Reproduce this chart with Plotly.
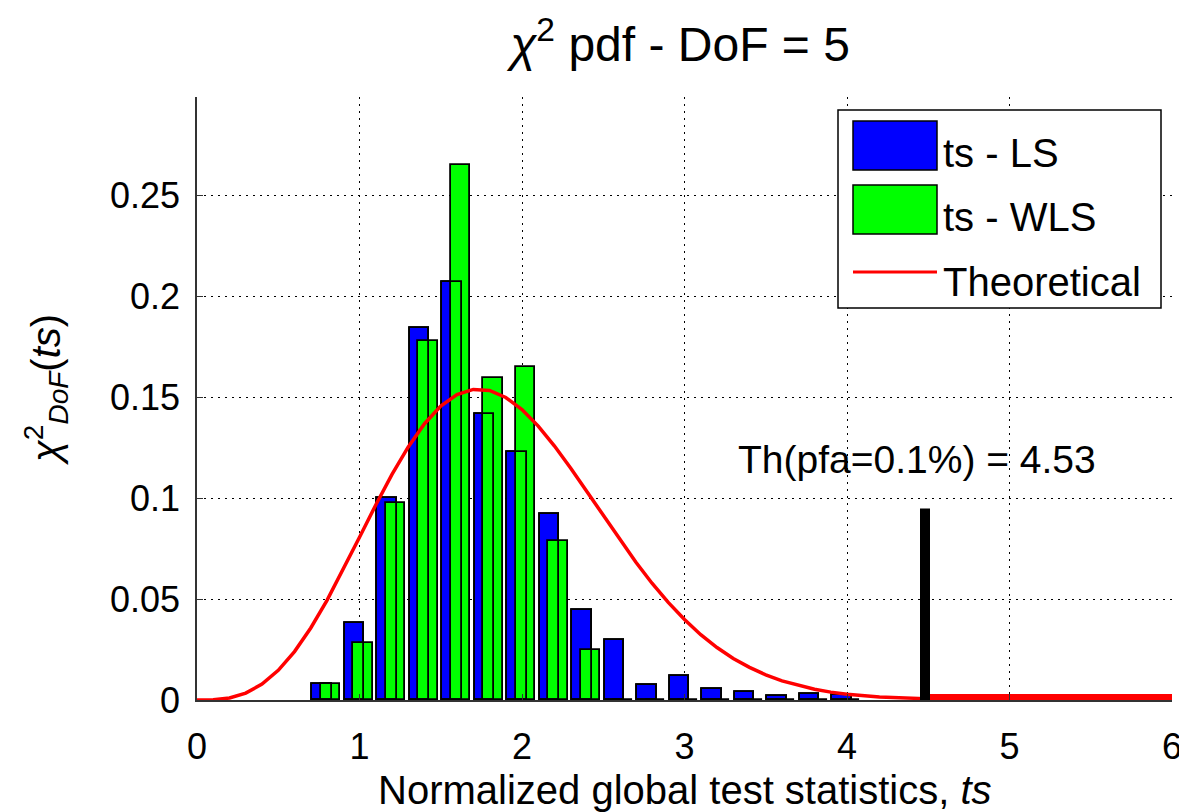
import plotly.graph_objects as go

# ---------------- data ----------------
bin_centers = [0.8, 1.0, 1.2, 1.4, 1.6, 1.8, 2.0, 2.2, 2.4, 2.6, 2.8, 3.0, 3.2, 3.4, 3.6, 3.8, 4.0]
ts_ls = [0.0077, 0.0383, 0.1000, 0.1845, 0.2075, 0.1420, 0.1230, 0.0922, 0.0448, 0.0300,
         0.0075, 0.0117, 0.0054, 0.0042, 0.0020, 0.0031, 0.0025]
ts_wls = [0.0077, 0.0283, 0.0979, 0.1780, 0.2655, 0.1596, 0.1650, 0.0788, 0.0249, 0.0,
          0.0, 0.0, 0.0, 0.0, 0.0, 0.0, 0.0]

curve_x = [0.0, 0.1, 0.2, 0.3, 0.4, 0.5, 0.6, 0.7, 0.8, 0.9,
           1.0, 1.1, 1.2, 1.3, 1.4, 1.5, 1.6, 1.7, 1.8, 1.9,
           2.0, 2.1, 2.2, 2.3, 2.4, 2.5, 2.6, 2.7, 2.8, 2.9,
           3.0, 3.1, 3.2, 3.3, 3.4, 3.5, 3.6, 3.7, 3.8, 3.9,
           4.0, 4.2, 4.4, 4.6, 4.8, 5.0, 5.5, 6.0]
curve_y = [0.0, 0.0001, 0.0010, 0.0034, 0.0079, 0.0147, 0.0240, 0.0357, 0.0494, 0.0647,
           0.0807, 0.0967, 0.1119, 0.1255, 0.1370, 0.1457, 0.1514, 0.1540, 0.1535, 0.1500,
           0.1440, 0.1358, 0.1259, 0.1149, 0.1032, 0.0913, 0.0796, 0.0684, 0.0579, 0.0484,
           0.0399, 0.0324, 0.0260, 0.0206, 0.0162, 0.0125, 0.0095, 0.0072, 0.0053, 0.0039,
           0.0029, 0.0015, 0.0007, 0.0003, 0.0002, 0.0001, 0.0, 0.0]

threshold_x = 4.48
threshold_h = 0.095
threshold_label = "Th(pfa=0.1%) = 4.53"
x_max = 6

x_ticks = [0, 1, 2, 3, 4, 5, 6]
y_ticks = [0, 0.05, 0.1, 0.15, 0.2, 0.25]
y_tick_labels = ["0", "0.05", "0.1", "0.15", "0.2", "0.25"]

series_names = ["ts - LS", "ts - WLS", "Theoretical"]
series_colors = ["#0000FF", "#00FF00", "#FF0000"]

FONT = "Liberation Sans, Arial, Helvetica, sans-serif"

# the page body has an 8px margin, so the figure is 8px smaller and margins shifted
PAGE_OFF = 8
FIG_W, FIG_H = 1187 - PAGE_OFF, 812 - PAGE_OFF

fig = go.Figure()

# LS bars (left of each group)
fig.add_trace(go.Bar(
    x=bin_centers, y=ts_ls, offset=-0.092, width=0.121,
    marker=dict(color=series_colors[0], line=dict(color="black", width=1.8)),
    name=series_names[0], showlegend=False))
# WLS bars (right of each group, overlapping)
fig.add_trace(go.Bar(
    x=bin_centers, y=ts_wls, offset=-0.037, width=0.117,
    marker=dict(color=series_colors[1], line=dict(color="black", width=1.8)),
    name=series_names[1], showlegend=False))
# LS outlines drawn on top (as in the reference rendering)
fig.add_trace(go.Bar(
    x=bin_centers, y=ts_ls, offset=-0.092, width=0.121,
    marker=dict(color="rgba(0,0,0,0)", line=dict(color="black", width=1.8)),
    hoverinfo="skip", showlegend=False))

# theoretical curve
fig.add_trace(go.Scatter(
    x=curve_x, y=curve_y, mode="lines",
    line=dict(color=series_colors[2], width=3.5),
    name=series_names[2], showlegend=False))

# rejection region (thick red along the axis, right of the threshold)
fig.add_trace(go.Scatter(
    x=[threshold_x, x_max], y=[0, 0], mode="lines",
    line=dict(color=series_colors[2], width=12), showlegend=False, hoverinfo="skip"))

# threshold marker
fig.add_trace(go.Scatter(
    x=[threshold_x, threshold_x], y=[0, threshold_h], mode="lines",
    line=dict(color="black", width=10), showlegend=False, hoverinfo="skip"))

fig.add_annotation(
    x=4.43, y=0.1195, xref="x", yref="y", text=threshold_label,
    showarrow=False, xanchor="center", yanchor="middle",
    font=dict(family=FONT, size=39, color="black"))

# ---------------- custom legend (large swatches like the reference) ----------------
# helpers: page pixel -> paper fraction of the plot area (plot area 197..1172 x 97..700)
W, H = 975.0, 603.0
L0, B0 = 197.0, 700.0
def px(xp):
    return (xp - L0) / W
def py(yp):
    return (B0 - yp) / H

fig.add_shape(type="rect", xref="paper", yref="paper",
              x0=px(838), x1=px(1161), y0=py(308), y1=py(110),
              fillcolor="white", line=dict(color="black", width=1.5), layer="above")
fig.add_shape(type="rect", xref="paper", yref="paper",
              x0=px(853), x1=px(937), y0=py(170), y1=py(121),
              fillcolor=series_colors[0], line=dict(color="black", width=1.5), layer="above")
fig.add_shape(type="rect", xref="paper", yref="paper",
              x0=px(853), x1=px(937), y0=py(234), y1=py(185),
              fillcolor=series_colors[1], line=dict(color="black", width=1.5), layer="above")
fig.add_shape(type="line", xref="paper", yref="paper",
              x0=px(853), x1=px(937), y0=py(272), y1=py(272),
              line=dict(color=series_colors[2], width=3), layer="above")
for name, yc in zip(series_names, [153, 217, 282]):
    fig.add_annotation(x=px(941), y=py(yc), xref="paper", yref="paper",
                       text=name, showarrow=False, xanchor="left", yanchor="middle",
                       font=dict(family=FONT, size=40, color="black"))

# y-axis title as a rotated annotation
fig.add_annotation(x=px(46), y=py(390), xref="paper", yref="paper",
                   text="<i>χ</i><sup>2</sup><sub><i>DoF</i></sub>(<i>ts</i>)",
                   textangle=-90, showarrow=False, xanchor="center", yanchor="middle",
                   font=dict(family=FONT, size=40, color="black"))

# x-axis title as an annotation near the bottom edge
fig.add_annotation(x=px(685), y=py(790), xref="paper", yref="paper",
                   text="Normalized global test statistics, <i>ts</i>",
                   showarrow=False, xanchor="center", yanchor="middle",
                   font=dict(family=FONT, size=40, color="black"))

grid_dash = "2px,5px"
fig.update_layout(
    width=FIG_W, height=FIG_H,
    margin=dict(l=197 - PAGE_OFF, r=15, t=97 - PAGE_OFF, b=112, autoexpand=False),
    paper_bgcolor="white", plot_bgcolor="white",
    barmode="overlay", bargap=0,
    font=dict(family=FONT, color="black"),
    title=dict(text="<i>χ</i><sup>2</sup> pdf - DoF = 5",
               x=px(680), xanchor="center", xref="paper",
               y=1 - (44 - PAGE_OFF) / FIG_H, yanchor="middle",
               font=dict(family=FONT, size=48, color="black")),
    xaxis=dict(range=[0, x_max], tickvals=x_ticks, ticktext=[str(v) for v in x_ticks],
               showline=True, linecolor="#333333", linewidth=1.5,
               ticks="inside", ticklen=6, tickcolor="#333333", tickwidth=1,
               showgrid=True, gridcolor="black", gridwidth=1.3, griddash=grid_dash,
               zeroline=False, tickfont=dict(family=FONT, size=36),
               ticklabelstandoff=14, automargin=False),
    yaxis=dict(range=[0, 0.299], tickvals=y_ticks, ticktext=y_tick_labels,
               showline=True, linecolor="#333333", linewidth=1.5,
               ticks="inside", ticklen=6, tickcolor="#333333", tickwidth=1,
               showgrid=True, gridcolor="black", gridwidth=1.3, griddash=grid_dash,
               zeroline=False, tickfont=dict(family=FONT, size=36),
               ticklabelstandoff=8, automargin=False),
)

fig.write_html("out.html")
